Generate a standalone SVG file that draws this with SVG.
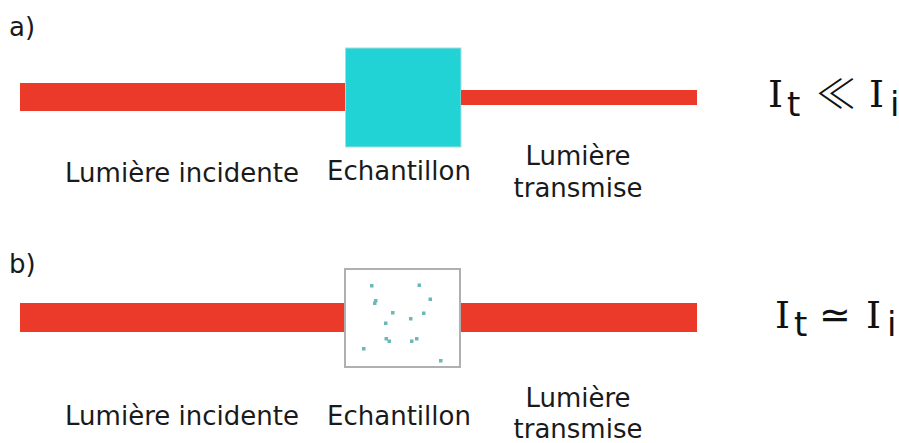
<svg xmlns="http://www.w3.org/2000/svg" width="899" height="443" viewBox="0 0 899 443">
<style>
.beam{fill:#ec3a2a}
.lbl{font-family:"DejaVu Sans",Verdana,sans-serif;font-size:26px;fill:#1a1a1a}
.tag{font-family:"DejaVu Sans",Verdana,sans-serif;font-size:26px;fill:#1a1a1a}
.eq{font-family:"DejaVu Sans",Verdana,sans-serif;font-size:38px;fill:#111}
.ll{font-family:"Noto Sans CJK JP","DejaVu Sans",sans-serif;font-size:40px;font-weight:300;fill:#111}
.eqI{font-family:"DejaVu Serif",serif;font-size:38px;fill:#111}
.sub{font-family:"DejaVu Sans",Verdana,sans-serif;font-size:34px;fill:#111}
.dot{fill:#6cb8b8}
</style>
<rect width="899" height="443" fill="#fff"/>
<g id="panel-a">
  <text class="tag" x="9" y="36">a)</text>
  <g id="beam-a-in"><rect class="beam" x="20" y="83" width="327" height="28"/></g>
  <g id="sample-a"><rect x="345.5" y="48" width="115.5" height="99" fill="#22d3d6" stroke="#a9dcdc" stroke-width="1"/></g>
  <g id="beam-a-out"><rect class="beam" x="461" y="90" width="236" height="15"/></g>
  <text class="lbl" x="182" y="182" text-anchor="middle">Lumière incidente</text>
  <text class="lbl" x="399" y="180" text-anchor="middle">Echantillon</text>
  <text class="lbl" x="578" y="165" text-anchor="middle">Lumière</text>
  <text class="lbl" x="578" y="197" text-anchor="middle">transmise</text>
  <g id="eq-a">
    <text class="eqI" x="768" y="107">I</text>
    <text class="sub" x="787" y="116">t</text>
    <text class="ll" x="816" y="108">≪</text>
    <text class="eqI" x="869" y="107">I</text>
    <text class="sub" x="890" y="116">i</text>
  </g>
</g>
<g id="panel-b">
  <text class="tag" x="9" y="273">b)</text>
  <g id="beam-b-in"><rect class="beam" x="20" y="303" width="327" height="29"/></g>
  <g id="beam-b-out"><rect class="beam" x="460" y="303" width="237" height="29"/></g>
  <g id="sample-b">
    <rect x="345" y="269" width="115" height="98" fill="#fff" stroke="#b0b0b0" stroke-width="2"/>
    <rect class="dot" x="370" y="284" width="3.5" height="3.5"/>
    <rect class="dot" x="417.5" y="283.5" width="3.5" height="3.5"/>
    <rect class="dot" x="374" y="299" width="3.5" height="3.5"/>
    <rect class="dot" x="373" y="301.5" width="3.5" height="3.5"/>
    <rect class="dot" x="428.5" y="297.5" width="3.5" height="3.5"/>
    <rect class="dot" x="391" y="311" width="3.5" height="3.5"/>
    <rect class="dot" x="422" y="311.5" width="3.5" height="3.5"/>
    <rect class="dot" x="409" y="317" width="3.5" height="3.5"/>
    <rect class="dot" x="384" y="321.5" width="3.5" height="3.5"/>
    <rect class="dot" x="384.5" y="337" width="3.5" height="3.5"/>
    <rect class="dot" x="387.5" y="339.5" width="3.5" height="3.5"/>
    <rect class="dot" x="415" y="337" width="3.5" height="3.5"/>
    <rect class="dot" x="410" y="339.5" width="3.5" height="3.5"/>
    <rect class="dot" x="362" y="347" width="3.5" height="3.5"/>
    <rect class="dot" x="439" y="359" width="3.5" height="3.5"/>
  </g>
  <text class="lbl" x="182" y="425" text-anchor="middle">Lumière incidente</text>
  <text class="lbl" x="399" y="425" text-anchor="middle">Echantillon</text>
  <text class="lbl" x="578" y="407" text-anchor="middle">Lumière</text>
  <text class="lbl" x="578" y="438" text-anchor="middle">transmise</text>
  <g id="eq-b">
    <text class="eqI" x="775" y="328">I</text>
    <text class="sub" x="794" y="336">t</text>
    <text class="eq" x="819" y="328">≃</text>
    <text class="eqI" x="866" y="328">I</text>
    <text class="sub" x="887" y="336">i</text>
  </g>
</g>
</svg>
